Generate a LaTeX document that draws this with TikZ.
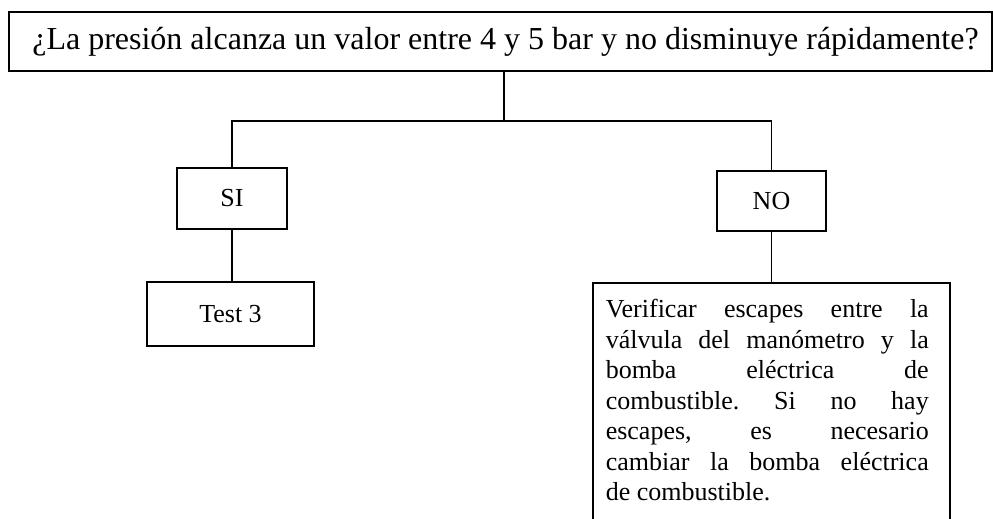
\documentclass[tikz,border=0pt]{standalone}
\usepackage{fontspec}
\setmainfont{Liberation Serif}
\begin{document}
\begin{tikzpicture}[x=1pt,y=-1pt,
  box/.style={draw=black, line width=1.5pt, inner sep=0pt, align=center},
  conn/.style={draw=black, line width=1.3pt},
  bodyfont/.style={font=\fontsize{26}{30.5}\selectfont},
  headfont/.style={font=\fontsize{32}{36}\selectfont}]
\useasboundingbox (0,0) rectangle (993,519);
\clip (0,0) rectangle (993,519);

\node[box, headfont, minimum width=983pt, minimum height=59pt] (q) at (500.5,41.5)
  {\hspace*{10pt}¿La presión alcanza un valor entre 4 y 5 bar y no disminuye rápidamente?};
\node[box, bodyfont, minimum width=110pt, minimum height=61pt] (si) at (232,198.5) {SI};
\node[box, bodyfont, minimum width=109pt, minimum height=60pt] (no) at (771.5,201) {NO};
\node[box, bodyfont, minimum width=167pt, minimum height=64pt] (test) at (230.5,314) {Test 3};
\node[draw=black, line width=1.5pt, inner xsep=13pt, inner ysep=0pt, anchor=north west, bodyfont]
  (act) at (592,282)
  {\parbox[t][260pt][t]{331pt}{\rightskip=8pt\frenchspacing\hyphenpenalty=10000\tolerance=10000
   \rule{0pt}{35pt}Verificar escapes entre la\linebreak
   válvula del manómetro y la\linebreak
   bomba eléctrica de\linebreak
   combustible. Si no hay\linebreak
   escapes, es necesario\linebreak
   cambiar la bomba eléctrica\linebreak
   de combustible.}};

\coordinate (j) at (504,121);
\draw[conn] (j |- q.south) -- (j);
\draw[conn] (si.north) |- (j) -| (no.north);
\draw[conn] (si.south) -- (si.south |- test.north);
\draw[conn] (no.south) -- (no.south |- act.north);
\end{tikzpicture}
\end{document}
